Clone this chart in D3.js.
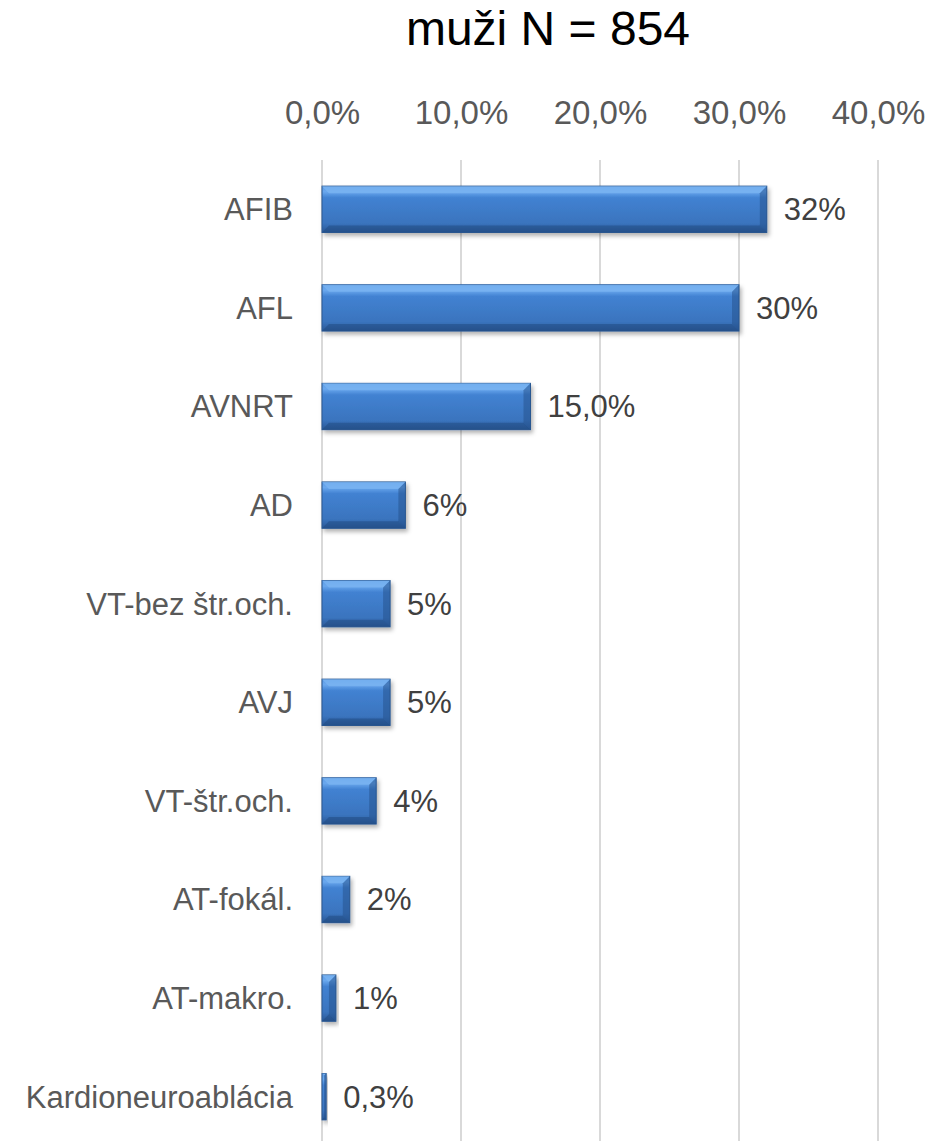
<!DOCTYPE html>
<html>
<head>
<meta charset="utf-8">
<script src="https://cdn.jsdelivr.net/npm/d3@7"></script>
<style>
  body { margin: 0; background: #fff; }
  text { font-family: Arial, "Liberation Sans", sans-serif; }
</style>
</head>
<body>
<div id="chart"></div>
<script>
const categories = ["AFIB", "AFL", "AVNRT", "AD", "VT-bez štr.och.", "AVJ", "VT-štr.och.", "AT-fokál.", "AT-makro.", "Kardioneuroablácia"];
const values = [0.32, 0.30, 0.15, 0.06, 0.049, 0.049, 0.039, 0.02, 0.01, 0.003];
const valueLabels = ["32%", "30%", "15,0%", "6%", "5%", "5%", "4%", "2%", "1%", "0,3%"];
const ticks = [0, 0.1, 0.2, 0.3, 0.4];

const width = 935, height = 1141;
const svg = d3.select("#chart").append("svg")
    .attr("width", width)
    .attr("height", height);

const x = d3.scaleLinear().domain([0, 0.4]).range([322, 878]);
const y = d3.scaleBand().domain(categories).range([160, 1146]).paddingInner(0.53).paddingOuter(0.265);

const defs = svg.append("defs");
const grad = defs.append("linearGradient").attr("id", "barGrad")
    .attr("x1", 0).attr("y1", 0).attr("x2", 0).attr("y2", 1);
grad.append("stop").attr("offset", "0%").attr("stop-color", "#5b9be6");
grad.append("stop").attr("offset", "12%").attr("stop-color", "#6aa8ee");
grad.append("stop").attr("offset", "25%").attr("stop-color", "#4282d2");
grad.append("stop").attr("offset", "80%").attr("stop-color", "#3a74be");
grad.append("stop").attr("offset", "100%").attr("stop-color", "#2a5896");

const shadow = defs.append("filter").attr("id", "shadow")
    .attr("x", "-10%").attr("y", "-20%").attr("width", "130%").attr("height", "160%");
shadow.append("feDropShadow").attr("dx", 2).attr("dy", 3).attr("stdDeviation", 2)
    .attr("flood-color", "#000").attr("flood-opacity", 0.3);

// gridlines
svg.append("g").selectAll("line")
    .data(ticks)
    .enter().append("line")
    .attr("x1", d => x(d)).attr("x2", d => x(d))
    .attr("y1", 160).attr("y2", height)
    .attr("stroke", "#d9d9d9").attr("stroke-width", 2);

// top axis
const axis = svg.append("g")
    .attr("transform", "translate(0,127)")
    .call(d3.axisTop(x).tickValues(ticks).tickSize(0).tickFormat(d => d3.format(".1f")(d * 100).replace(".", ",") + "%"));
axis.select(".domain").remove();
axis.selectAll("text")
    .attr("font-size", 33).attr("fill", "#595959").attr("dy", 0)
    .style("font-family", "Arial, 'Liberation Sans', sans-serif");

// title
svg.append("text")
    .attr("x", 548).attr("y", 45)
    .attr("text-anchor", "middle")
    .attr("font-size", 48).attr("fill", "#000")
    .text("muži N = 854");

const bar = svg.append("g").selectAll("g")
    .data(categories)
    .enter().append("g");

bar.append("rect")
    .attr("x", x(0))
    .attr("y", d => y(d))
    .attr("width", (d, i) => x(values[i]) - x(0))
    .attr("height", y.bandwidth())
    .attr("fill", "url(#barGrad)")
    .attr("stroke", "#2c5a94").attr("stroke-width", 1)
    .attr("filter", "url(#shadow)");

// bevel edges
bar.append("path")
    .attr("d", (d, i) => {
        const x0 = x(0), x1 = x(values[i]), y0 = y(d), h = y.bandwidth();
        const b = Math.min(7, (x1 - x0) / 2);
        return `M${x0},${y0}L${x1},${y0}L${x1 - b},${y0 + b}L${x0 + b},${y0 + b}Z`;
    })
    .attr("fill", "#7db6f2").attr("opacity", 0.7);
bar.append("path")
    .attr("d", (d, i) => {
        const x0 = x(0), x1 = x(values[i]), y0 = y(d), h = y.bandwidth();
        const b = Math.min(7, (x1 - x0) / 2);
        return `M${x0},${y0 + h}L${x1},${y0 + h}L${x1 - b},${y0 + h - b}L${x0 + b},${y0 + h - b}Z`;
    })
    .attr("fill", "#1f4a80").attr("opacity", 0.5);
bar.append("path")
    .attr("d", (d, i) => {
        const x0 = x(0), x1 = x(values[i]), y0 = y(d), h = y.bandwidth();
        const b = Math.min(7, (x1 - x0) / 2);
        return `M${x1},${y0}L${x1},${y0 + h}L${x1 - b},${y0 + h - b}L${x1 - b},${y0 + b}Z`;
    })
    .attr("fill", "#24508a").attr("opacity", 0.5);

// category labels
bar.append("text")
    .attr("x", 293)
    .attr("y", d => y(d) + y.bandwidth() / 2)
    .attr("dy", "0.35em")
    .attr("text-anchor", "end")
    .attr("font-size", 31).attr("fill", "#595959")
    .text(d => d);

// value labels
bar.append("text")
    .attr("x", (d, i) => x(values[i]) + 17)
    .attr("y", d => y(d) + y.bandwidth() / 2)
    .attr("dy", "0.35em")
    .attr("font-size", 31).attr("fill", "#404040")
    .text((d, i) => valueLabels[i]);
</script>
</body>
</html>
